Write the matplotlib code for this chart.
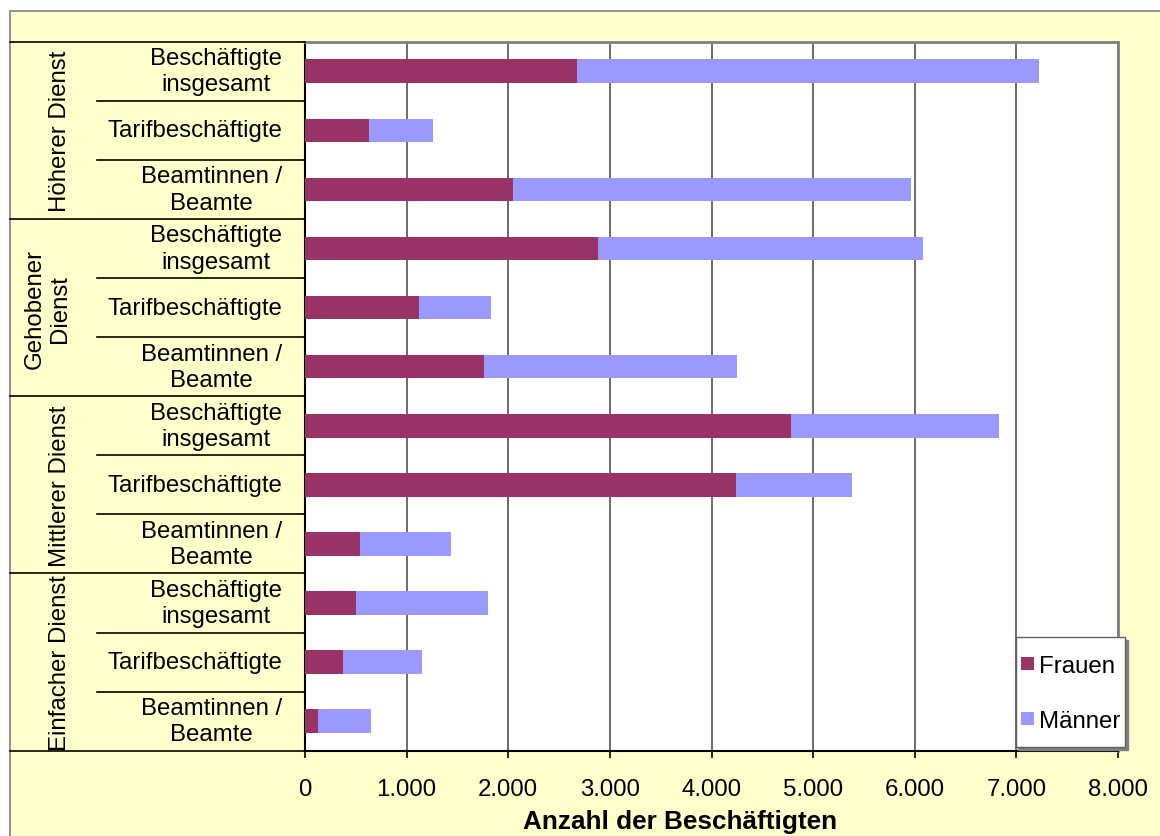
import matplotlib.pyplot as plt
import matplotlib.transforms as mtransforms
from matplotlib.patches import Rectangle
from matplotlib.container import BarContainer
from matplotlib.legend_handler import HandlerPatch, update_from_first_child
from matplotlib.ticker import FixedLocator

plt.rcParams['font.family'] = ['Liberation Sans', 'DejaVu Sans']

# Beschäftigte nach Laufbahngruppe und Status
groups = ['Höherer Dienst', 'Gehobener\nDienst', 'Mittlerer Dienst', 'Einfacher Dienst']
categories = ['Beschäftigte\ninsgesamt', 'Tarifbeschäftigte', 'Beamtinnen /\nBeamte'] * 4
frauen = [2677, 630, 2047, 2879, 1122, 1757, 4781, 4244, 537, 502, 374, 128]
maenner = [4548, 630, 3918, 3199, 706, 2493, 2045, 1141, 904, 1303, 781, 522]
x_ticks = [0, 1000, 2000, 3000, 4000, 5000, 6000, 7000, 8000]
x_tick_labels = ['0', '1.000', '2.000', '3.000', '4.000', '5.000', '6.000', '7.000', '8.000']

W, H = 1160, 837
FS = 17.3
C_FRAUEN = '#993366'
C_MAENNER = '#9999FF'
BG = '#FFFFCC'

fig = plt.figure(figsize=(W / 100, H / 100), dpi=100)
fig.patch.set_facecolor('white')
fig.patches.append(Rectangle((10 / W, -0.1), 1.2, 1.1 - 12 / H, transform=fig.transFigure,
                             facecolor=BG, edgecolor='#808080', lw=1.2, zorder=-10))

left, right, top, bottom = 305, 1118, 42.7, 751.7
ax = fig.add_axes([left / W, 1 - bottom / H, (right - left) / W, (bottom - top) / H])
ax.set_facecolor('white')

ypos = list(range(len(categories)))
b1 = ax.barh(ypos, frauen, height=0.4, color=C_FRAUEN, label='Frauen', zorder=3)
b2 = ax.barh(ypos, maenner, left=frauen, height=0.4, color=C_MAENNER, label='Männer', zorder=3)

ax.set_xlim(0, 8000)
ax.set_ylim(len(categories) - 0.5, -0.5)
ax.xaxis.set_major_locator(FixedLocator(x_ticks))
ax.set_xticklabels(x_tick_labels, fontsize=FS)
ax.tick_params(axis='x', direction='out', length=5, width=1.2, color='black', pad=15)
ax.set_yticks([])
ax.grid(axis='x', color='#606060', lw=1.3)
ax.set_axisbelow(True)

for s in ('left', 'bottom'):
    ax.spines[s].set_color('black')
    ax.spines[s].set_linewidth(1.5)
for s in ('top', 'right'):
    ax.spines[s].set_color('#808080')
    ax.spines[s].set_linewidth(2)

ax.set_xlabel('Anzahl der Beschäftigten', fontsize=18.8, fontweight='bold')
ax.xaxis.set_label_coords((680 - left) / (right - left), -(810 - bottom) / (bottom - top))

# table of labels to the left of the plot
trans = mtransforms.blended_transform_factory(ax.transAxes, ax.transData)
x_outer = (10 - left) / (right - left)
x_inner = (97 - left) / (right - left)
for i in range(len(categories) + 1):
    y = i - 0.5
    x0 = x_outer if i % 3 == 0 else x_inner
    ax.plot([x0, 0], [y, y], transform=trans, color='black', lw=1.2, clip_on=False, zorder=5)

for i, cat in enumerate(categories):
    ax.text((282 - left) / (right - left), i, cat, transform=trans, ha='right', va='center',
            multialignment='center', fontsize=FS, linespacing=1.25)

for g, name in enumerate(groups):
    gx = 47 if '\n' in name else 60
    ax.text((gx - left) / (right - left), g * 3 + 1, name, transform=trans, rotation=90,
            ha='center', va='center', multialignment='center', fontsize=FS, linespacing=1.2)


# small square legend keys, centred on the label's cap height
def square_key(legend, orig_handle, xdescent, ydescent, width, height, fontsize):
    return Rectangle((-xdescent, 0.36 * fontsize - width / 2), width, width)


leg = ax.legend(handles=[b1, b2], loc='upper left',
                bbox_to_anchor=(1015.7 / W, 1 - 638 / H), bbox_transform=fig.transFigure,
                borderaxespad=0, fontsize=FS, frameon=True, fancybox=False,
                labelspacing=0.42, handlelength=0.54, handleheight=2.5, handletextpad=0.21,
                borderpad=0.21, shadow={'color': '#808080', 'alpha': 1},
                handler_map={BarContainer: HandlerPatch(patch_func=square_key,
                                                        update_func=update_from_first_child)})
leg.get_frame().set_edgecolor('#606060')
leg.get_frame().set_linewidth(1)
leg.get_frame().set_alpha(1)

fig.savefig('out.png', dpi=100, facecolor=fig.get_facecolor())
